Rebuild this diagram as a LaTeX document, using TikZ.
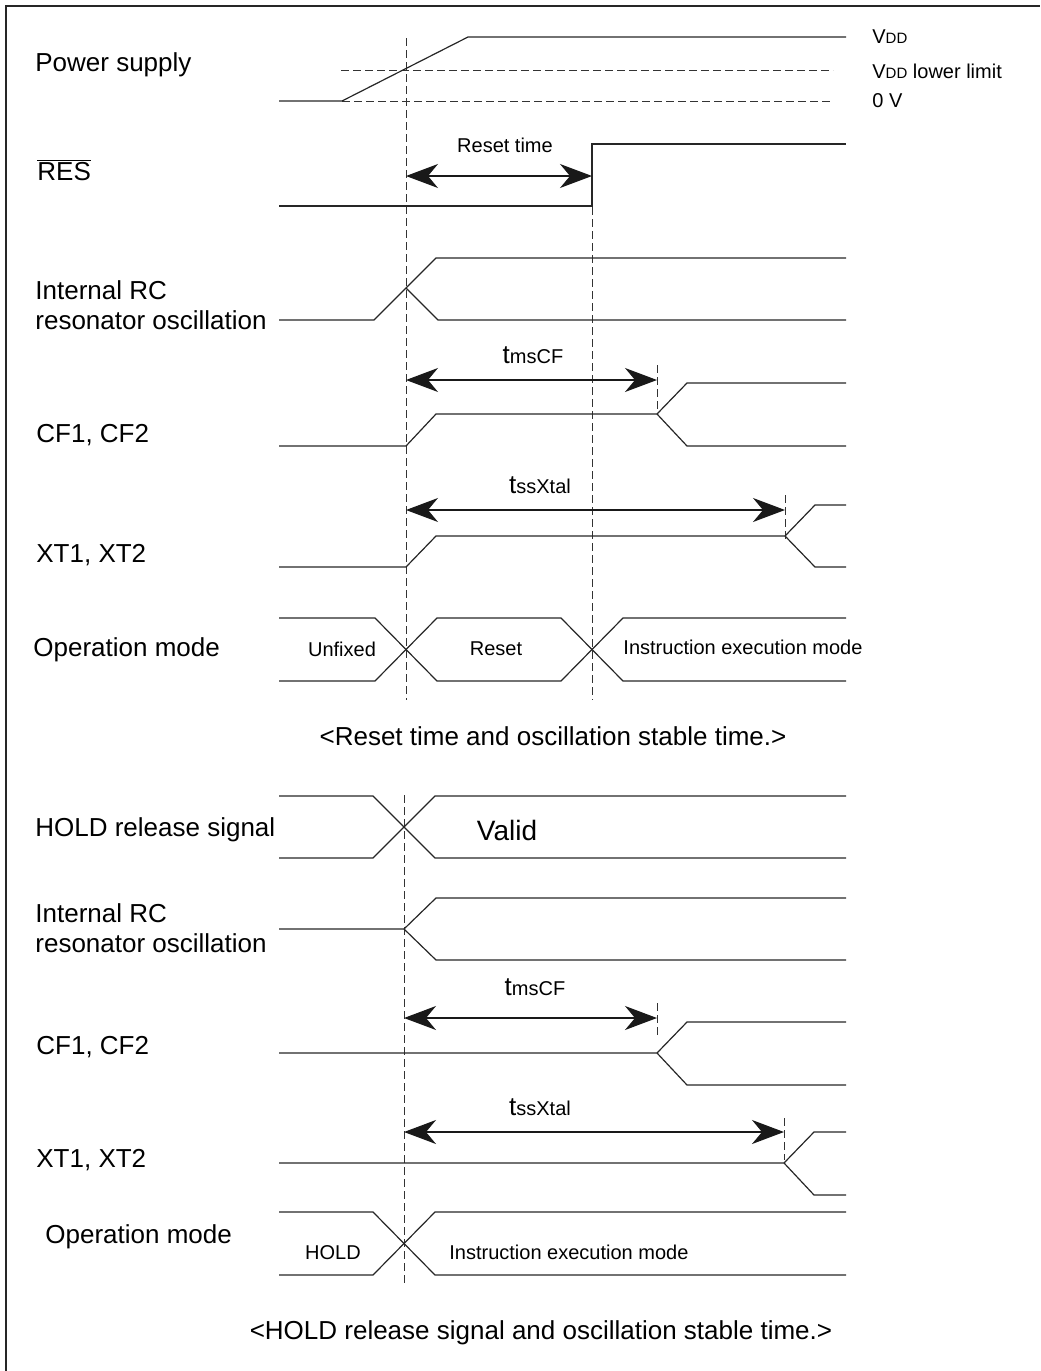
\documentclass[tikz,border=0pt]{standalone}
\usepackage{fontspec}
\setmainfont{Liberation Sans}
\usetikzlibrary{arrows.meta}
\newcommand{\lowtxt}[1]{{\fontsize{7.5}{9}\selectfont #1}}
\newcommand{\smalltxt}[1]{{\fontsize{10}{12}\selectfont #1}}

\begin{document}
\begin{tikzpicture}[x=0.5pt,y=-0.5pt]
\tikzstyle{sig} = [draw=black!85, line width=0.6pt]
\tikzstyle{guide} = [draw=black!80, line width=0.5pt, dash pattern=on 4pt off 2pt]
\tikzstyle{span} = [draw=black!90, line width=0.6pt,
{Stealth[length=16pt,width=12pt,inset=5pt]}-{Stealth[length=16pt,width=12pt,inset=5pt]}]
\tikzstyle{signame} = [anchor=west, inner sep=0pt, align=left,
font=\fontsize{13}{15}\selectfont]
\tikzstyle{tag} = [inner sep=0pt, font=\fontsize{10}{12}\selectfont]
\tikzstyle{caption} = [inner sep=0pt, font=\fontsize{13}{15}\selectfont]
\useasboundingbox (0,0) rectangle (1040,1371);
\draw[line width=1pt, black!85] (6,1371) -- (6,6) -- (1040,6);

%%% reset time
% guides
\draw[guide] (406,38) -- (406,700);
\draw[guide] (592,207) -- (592,700);
\draw[guide] (341,70) -- (833,70);
\draw[guide] (342,101) -- (833,101);
% power supply
\node[signame] (pwr) at (35,65) {Power supply};
\draw[sig] (279,101) -- (342,101) -- (468,37) -- (846,37);
\node[tag, anchor=west] (vdd) at (872,37) {V\lowtxt{DD}};
\node[tag, anchor=west] (vddmin) at (872,71) {V\lowtxt{DD} lower limit};
\node[tag, anchor=west] (zero) at (872,101) {0 V};
% RES
\node[signame] (res) at (37,170) {$\overline{\mbox{RES}}$};
\draw[sig] (279,206) -- (592,206) -- (592,144) -- (846,144);
\coordinate (rs1) at (406,176);
\coordinate (rs2) at (592,176);
\draw[span] (rs1) -- (rs2);
\node[tag] (rstime) at (505,145) {Reset time};
% internal RC
\node[signame] (rc) at (35,305) {Internal RC\\resonator oscillation};
\draw[sig] (279,320) -- (374,320) -- (436,258) -- (846,258);
\draw[sig] (406,288) -- (438,320) -- (846,320);
% CF1, CF2
\coordinate (cf1) at (406,380);
\coordinate (cf2) at (657,380);
\draw[span] (cf1) -- (cf2);
\draw[guide] (657,365) -- (657,412);
\node[caption] (tcf) at (533,355) {t\smalltxt{msCF}};
\node[signame] (cf) at (36,435) {CF1, CF2};
\draw[sig] (279,446) -- (406,446) -- (436,414) -- (657,414) -- (687,383) -- (846,383);
\draw[sig] (657,414) -- (687,446) -- (846,446);
% XT1, XT2
\coordinate (xt1) at (406,510);
\coordinate (xt2) at (785,510);
\draw[span] (xt1) -- (xt2);
\draw[guide] (785,495) -- (785,540);
\node[caption] (txt) at (540,485) {t\smalltxt{ssXtal}};
\node[signame] (xt) at (36,555) {XT1, XT2};
\draw[sig] (279,567) -- (406,567) -- (436,536) -- (785,536) -- (815,505) -- (846,505);
\draw[sig] (785,536) -- (815,567) -- (846,567);
% operation mode
\node[signame] (mode) at (33,650) {Operation mode};
\draw[sig] (279,618) -- (375,618) -- (437,681) -- (561,681) -- (623,618) -- (846,618);
\draw[sig] (279,681) -- (375,681) -- (437,618) -- (561,618) -- (623,681) -- (846,681);
\node[tag] (unfixed) at (342,649) {Unfixed};
\node[tag] (reset) at (496,649) {Reset};
\node[tag] (exec) at (743,647) {Instruction execution mode};
\node[caption] (cap1) at (553,736) {<Reset time and oscillation stable time.>};

%%% HOLD release
\draw[guide] (404,795) -- (404,1283);
% HOLD release signal
\node[signame] (hold) at (35,830) {HOLD release signal};
\draw[sig] (279,796) -- (373,796) -- (435,858) -- (846,858);
\draw[sig] (279,858) -- (373,858) -- (435,796) -- (846,796);
\node[caption, font=\fontsize{14}{16}\selectfont] (valid) at (507,830) {Valid};
% internal RC
\node[signame] (rcb) at (35,928) {Internal RC\\resonator oscillation};
\draw[sig] (279,929) -- (404,929) -- (436,898) -- (846,898);
\draw[sig] (404,929) -- (436,960) -- (846,960);
% CF1, CF2
\coordinate (cfb1) at (404,1018);
\coordinate (cfb2) at (657,1018);
\draw[span] (cfb1) -- (cfb2);
\draw[guide] (657,1003) -- (657,1035);
\node[caption] (tcfb) at (535,987) {t\smalltxt{msCF}};
\node[signame] (cfb) at (36,1047) {CF1, CF2};
\draw[sig] (279,1053) -- (657,1053) -- (687,1022) -- (846,1022);
\draw[sig] (657,1053) -- (687,1085) -- (846,1085);
% XT1, XT2
\coordinate (xtb1) at (404,1132);
\coordinate (xtb2) at (784,1132);
\draw[span] (xtb1) -- (xtb2);
\draw[guide] (784,1118) -- (784,1160);
\node[caption] (txtb) at (540,1107) {t\smalltxt{ssXtal}};
\node[signame] (xtb) at (36,1160) {XT1, XT2};
\draw[sig] (279,1163) -- (784,1163) -- (814,1132) -- (846,1132);
\draw[sig] (784,1163) -- (814,1195) -- (846,1195);
% operation mode
\node[signame] (modeb) at (45,1237) {Operation mode};
\draw[sig] (279,1212) -- (373,1212) -- (435,1275) -- (846,1275);
\draw[sig] (279,1275) -- (373,1275) -- (435,1212) -- (846,1212);
\node[tag] (holdm) at (333,1253) {HOLD};
\node[tag, anchor=west] (execb) at (449,1252) {Instruction execution mode};
\node[caption] (cap2) at (541,1333) {<HOLD release signal and oscillation stable time.>};
\end{tikzpicture}
\end{document}
